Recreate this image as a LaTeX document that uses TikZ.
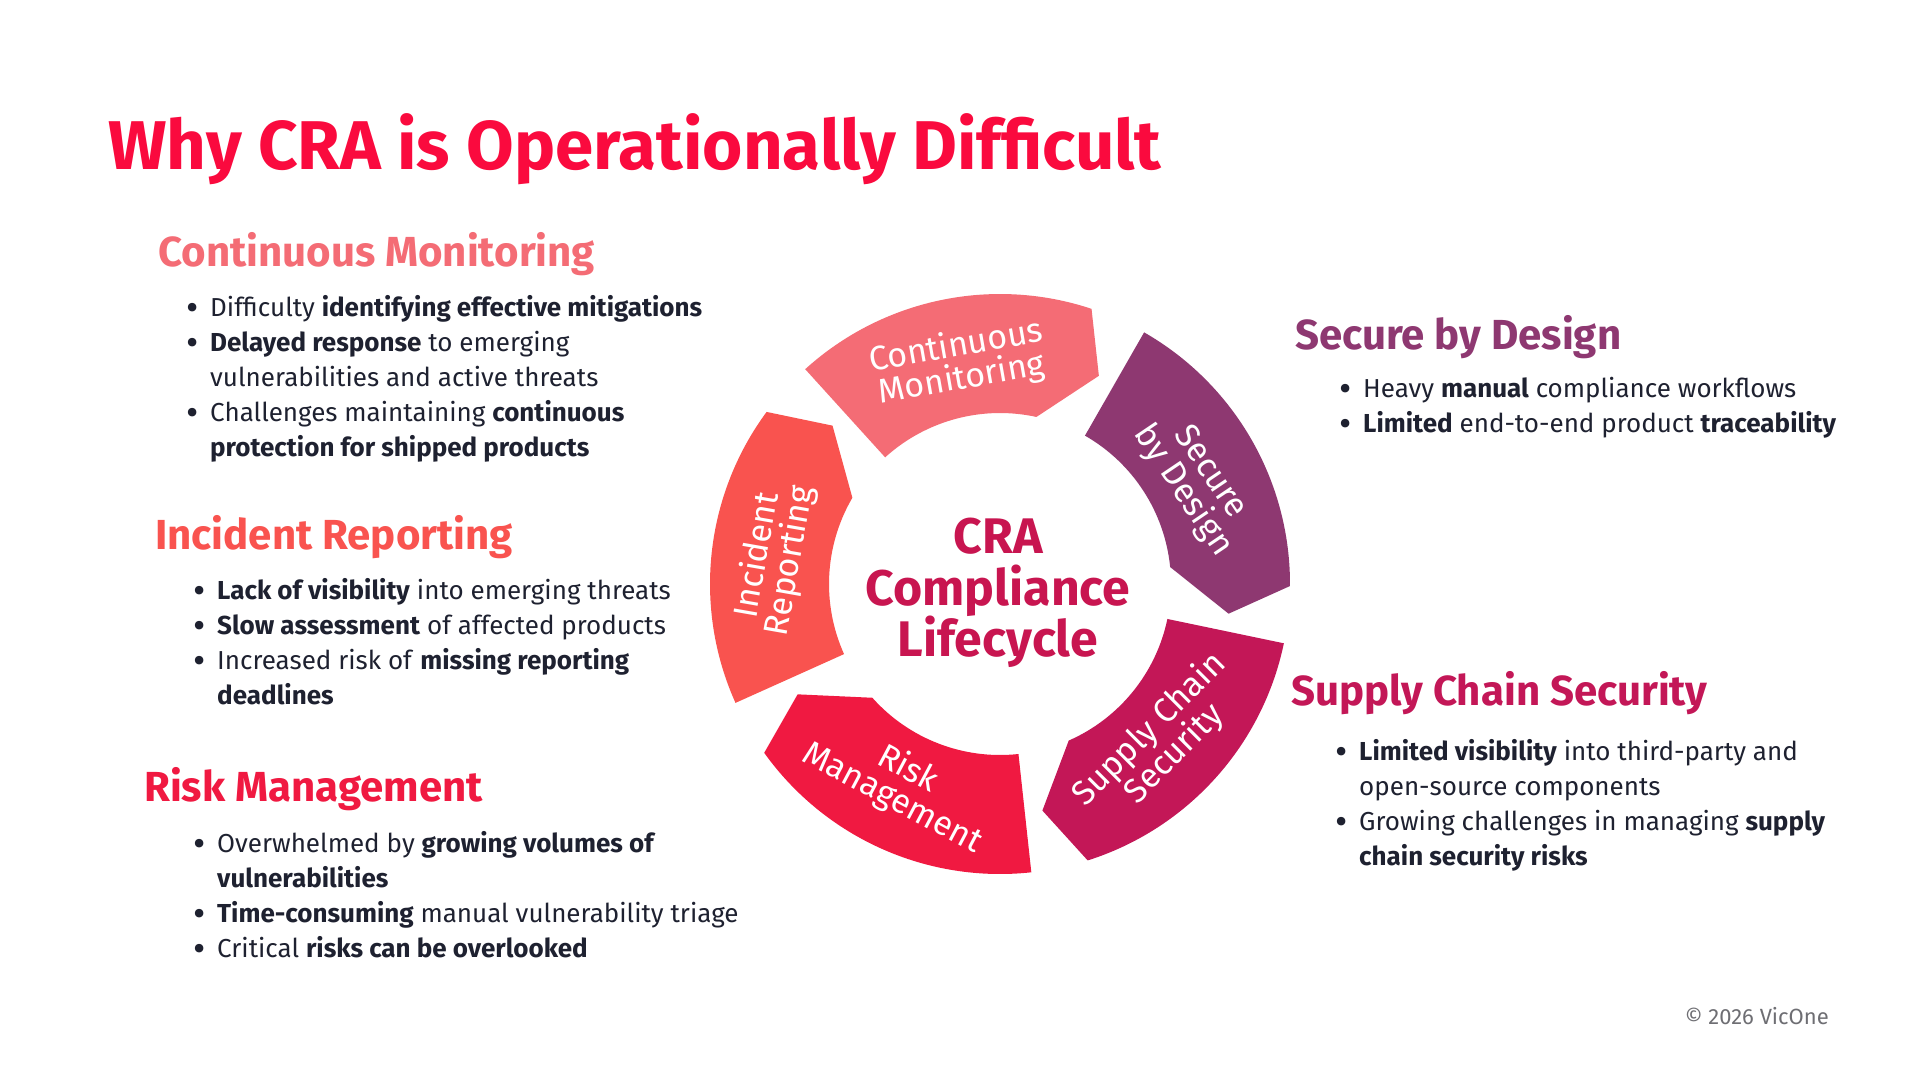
\documentclass[tikz,border=0pt]{standalone}
\usepackage{fontspec}
\setmainfont{Fira Sans}
\definecolor{titlecol}{HTML}{FA0A3E}
\definecolor{cmcol}{HTML}{F46C75}
\definecolor{ircol}{HTML}{F9534F}
\definecolor{rmcol}{HTML}{F01941}
\definecolor{sccol}{HTML}{C31757}
\definecolor{sbdcol}{HTML}{8E3871}
\definecolor{hubcol}{HTML}{C81550}
\definecolor{bodycol}{HTML}{1E2130}
\definecolor{copycol}{HTML}{6E6E73}
\newcommand\myb{\makebox[24pt][l]{\raisebox{-4pt}{\scalebox{1.45}{\textbullet}}}}
\newcommand\myi{\hspace*{24pt}}
\begin{document}
\begin{tikzpicture}[x=1pt,y=-1pt,
  titletext/.style={font=\fontsize{69}{72}\selectfont\bfseries, text=titlecol, anchor=base west, inner sep=0},
  headtext/.style={font=\fontsize{42}{46}\selectfont\bfseries, anchor=base west, inner sep=0},
  listtext/.style={font=\fontsize{26}{35}\selectfont, text=bodycol, anchor=base west, inner sep=0},
  seglabel/.style={font=\fontsize{34}{33}\selectfont, text=white, align=center, inner sep=0},
  hubtext/.style={font=\fontsize{50}{52}\selectfont\bfseries, text=hubcol, anchor=base, inner sep=0},
  copytext/.style={font=\fontsize{22}{24}\selectfont, text=copycol, anchor=base east, inner sep=0}]
\path[use as bounding box, fill=white] (0,0) rectangle (1920,1080);

% title
\node[titletext] (title) at (108,169) {Why CRA is Operationally Difficult};

% wheel segments
\begin{scope}[shift={(1000,584)}, yscale=-1]
\foreach \k/\col in {0/cmcol,1/sbdcol,2/sccol,3/rmcol,4/ircol}{
  \pgfmathsetmacro\ta{132.2-72*\k}
  \pgfmathsetmacro\ho{71.6-72*\k}
  \pgfmathsetmacro\hi{77.7-72*\k}
  \pgfmathsetmacro\tp{64.6-72*\k}
  \fill[\col] (\ta:290) arc[start angle=\ta, end angle=\ho, radius=290]
     -- (\tp:230.5) -- (\hi:171) arc[start angle=\hi, end angle=\ta, radius=171] -- cycle;
}
\end{scope}

% segment labels
\node[seglabel, rotate=10] (s-cm) at (959,363) {Continuous\\Monitoring};
\node[seglabel, rotate=-56] (s-sbd) at (1196,482) {Secure\\by Design};
\node[seglabel, rotate=45] (s-sc) at (1162,742) {Supply Chain\\Security};
\node[seglabel, rotate=-28] (s-rm) at (900,784) {Risk\\Management};
\node[seglabel, rotate=80] (s-ir) at (774,558) {Incident\\Reporting};

% hub
\node[hubtext] (hub1) at (998,553) {CRA};
\node[hubtext] (hub2) at (998,605) {Compliance};
\node[hubtext] (hub3) at (998,656) {Lifecycle};

% left column
\node[headtext, text=cmcol] (h-cm) at (158,266) {Continuous Monitoring};
\node[listtext] (l-cm) at (186,316) {\begin{tabular}[t]{@{}l@{}}
\myb Difficulty \textbf{identifying effective mitigations}\\
\myb\textbf{Delayed response} to emerging\\
\myi vulnerabilities and active threats\\
\myb Challenges maintaining \textbf{continuous}\\
\myi\textbf{protection for shipped products}
\end{tabular}};

\node[headtext, text=ircol] (h-ir) at (155,549) {Incident Reporting};
\node[listtext] (l-ir) at (193,599) {\begin{tabular}[t]{@{}l@{}}
\myb\textbf{Lack of visibility} into emerging threats\\
\myb\textbf{Slow assessment} of affected products\\
\myb Increased risk of \textbf{missing reporting}\\
\myi\textbf{deadlines}
\end{tabular}};

\node[headtext, text=rmcol] (h-rm) at (144,801) {Risk Management};
\node[listtext] (l-rm) at (193,852) {\begin{tabular}[t]{@{}l@{}}
\myb Overwhelmed by \textbf{growing volumes of}\\
\myi\textbf{vulnerabilities}\\
\myb\textbf{Time-consuming} manual vulnerability triage\\
\myb Critical \textbf{risks can be overlooked}
\end{tabular}};

% right column
\node[headtext, text=sbdcol] (h-sbd) at (1295,349) {Secure by Design};
\node[listtext] (l-sbd) at (1339,397) {\begin{tabular}[t]{@{}l@{}}
\myb Heavy \textbf{manual} compliance workflows\\
\myb\textbf{Limited} end-to-end product \textbf{traceability}
\end{tabular}};

\node[headtext, text=sccol] (h-sc) at (1291,705) {Supply Chain Security};
\node[listtext] (l-sc) at (1335,760) {\begin{tabular}[t]{@{}l@{}}
\myb\textbf{Limited visibility} into third-party and\\
\myi open-source components\\
\myb Growing challenges in managing \textbf{supply}\\
\myi\textbf{chain security risks}
\end{tabular}};

\node[copytext] (copy) at (1829,1024) {© 2026 VicOne};
\end{tikzpicture}
\end{document}
